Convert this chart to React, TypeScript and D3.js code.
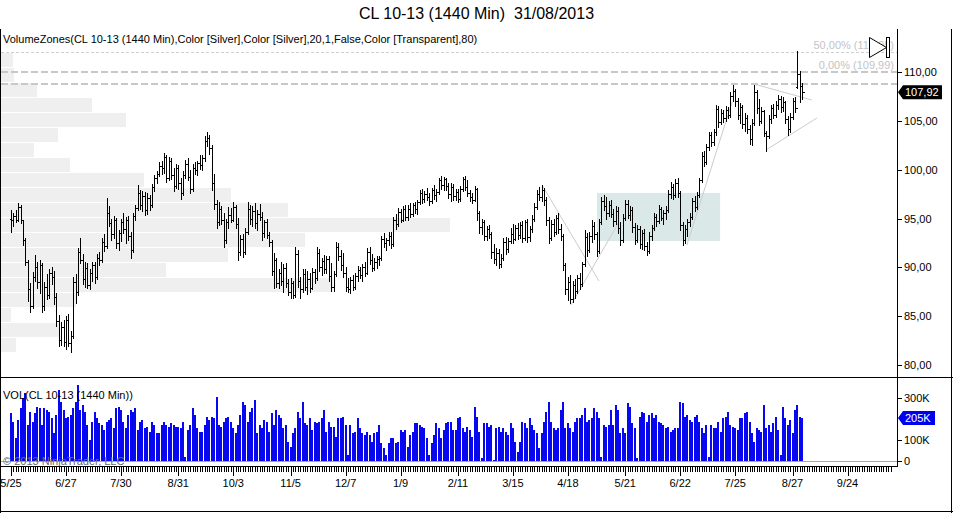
import * as d3 from 'd3';

// CL 10-13 daily bars, [open, high, low, close]
const ohlc: number[][] = [
  [95.0,95.9,93.6,94.8],[94.8,95.6,94.2,95.3],[95.3,95.9,94.6,94.9],[94.9,96.6,94.7,96.2],[96.2,96.4,94.5,94.8],
  [94.8,94.9,92.3,92.8],[92.8,93.0,90.2,90.6],[90.6,90.8,86.6,87.8],[87.8,88.4,85.4,86.0],[86.0,89.5,85.8,89.0],
  [89.0,91.3,88.6,90.0],[90.0,90.6,87.9,88.5],[88.5,90.8,87.4,90.2],[90.2,90.4,85.4,86.0],[86.0,88.5,85.6,88.0],
  [88.0,89.3,86.8,87.2],[87.2,89.8,86.9,89.4],[89.4,90.0,88.3,89.0],[89.0,89.6,86.3,87.0],[87.0,87.4,84.0,84.5],
  [84.5,85.1,81.9,82.6],[82.6,84.4,82.1,83.9],[83.9,84.6,82.0,82.4],[82.4,85.0,81.6,84.6],[84.6,85.2,82.0,82.3],
  [82.3,83.5,81.3,83.0],[83.0,89.0,82.8,88.5],[88.5,89.3,86.4,87.5],[87.5,92.0,87.2,91.6],[91.6,93.0,90.4,90.8],
  [90.8,91.4,88.3,88.8],[88.8,90.5,88.0,89.9],[89.9,90.4,87.9,88.2],[88.2,89.8,87.8,89.4],[89.4,90.6,88.6,90.2],
  [90.2,90.6,88.4,89.0],[89.0,91.4,88.8,91.0],[91.0,91.6,90.2,90.8],[90.8,93.0,90.6,92.6],[92.6,93.4,91.7,92.2],
  [92.2,97.1,92.0,95.6],[95.6,96.3,94.2,94.5],[94.5,95.0,92.8,93.4],[93.4,95.3,93.0,94.8],[94.8,95.1,92.0,92.5],
  [92.5,93.8,91.8,93.5],[93.5,95.0,92.7,94.6],[94.6,95.6,93.5,93.9],[93.9,95.2,92.5,94.9],[94.9,95.3,92.8,93.2],
  [93.2,93.6,91.0,91.8],[91.8,95.6,91.6,95.3],[95.3,96.4,94.9,96.1],[96.1,98.4,95.9,97.6],[97.6,97.9,96.0,96.4],
  [96.4,97.8,95.8,97.3],[97.3,97.7,95.4,95.9],[95.9,97.6,95.5,97.1],[97.1,97.4,95.9,96.4],[96.4,98.5,96.2,98.2],
  [98.2,99.5,97.8,99.2],[99.2,99.9,98.6,99.6],[99.6,100.8,99.4,100.4],[100.4,100.9,99.6,100.2],[100.2,101.7,99.7,101.3],
  [101.3,101.5,98.7,99.2],[99.2,101.3,98.9,100.9],[100.9,101.2,99.0,99.5],[99.5,100.2,97.8,98.3],[98.3,100.6,98.1,100.2],
  [100.2,100.5,98.0,98.6],[98.6,99.2,97.0,97.6],[97.6,99.9,97.4,99.5],[99.5,101.0,99.1,100.6],[100.6,101.2,98.9,99.3],
  [99.3,100.0,97.6,98.0],[98.0,100.6,97.8,100.2],[100.2,100.8,99.6,100.0],[100.0,100.9,99.5,100.7],[100.7,101.5,100.1,100.5],
  [100.5,101.5,100.0,101.2],[101.2,103.4,100.9,102.9],[102.9,103.9,102.4,103.2],[103.2,103.6,101.6,102.2],[102.2,102.5,97.9,98.6],
  [98.6,99.6,96.0,96.5],[96.5,96.9,94.0,94.6],[94.6,96.7,94.3,96.0],[96.0,96.3,94.4,94.9],[94.9,95.6,92.1,92.8],
  [92.8,95.0,92.5,94.6],[94.6,96.2,94.0,95.4],[95.4,96.1,94.6,94.9],[94.9,96.7,94.7,96.2],[96.2,96.4,94.0,94.4],
  [94.4,95.1,90.8,91.6],[91.6,93.3,91.3,92.9],[92.9,93.4,91.1,91.6],[91.6,94.0,91.4,93.6],[93.6,96.7,93.4,96.0],
  [96.0,96.4,94.4,95.0],[95.0,96.3,94.2,95.8],[95.8,96.6,94.0,94.5],[94.5,95.9,93.8,95.5],[95.5,96.5,94.9,95.2],
  [95.2,95.7,92.8,93.5],[93.5,94.9,93.1,94.6],[94.6,95.0,93.0,93.3],[93.3,93.6,92.2,92.6],[92.6,92.8,89.2,89.6],
  [89.6,91.5,87.9,90.8],[90.8,91.0,88.0,88.4],[88.4,89.8,87.9,89.4],[89.4,90.6,88.2,88.6],[88.6,90.3,87.5,89.9],
  [89.9,90.4,88.0,88.4],[88.4,88.8,87.2,87.5],[87.5,88.9,86.9,88.4],[88.4,88.6,86.9,87.2],[87.2,92.1,87.0,91.4],
  [91.4,91.8,88.0,88.6],[88.6,89.0,86.9,87.8],[87.8,89.8,87.5,89.3],[89.3,89.8,87.7,88.0],[88.0,89.6,87.3,88.8],
  [88.8,89.4,87.5,87.9],[87.9,89.9,87.8,89.5],[89.5,89.8,88.4,88.9],[88.9,92.1,88.7,91.5],[91.5,91.9,89.6,90.0],
  [90.0,91.0,89.2,90.7],[90.7,91.3,89.4,89.8],[89.8,91.2,89.4,90.9],[90.9,91.2,88.6,89.1],[89.1,90.4,87.6,88.0],
  [88.0,89.6,87.6,89.3],[89.3,92.6,89.1,92.1],[92.1,92.5,90.8,91.2],[91.2,91.8,89.7,90.2],[90.2,91.5,89.0,89.4],
  [89.4,90.0,87.6,88.0],[88.0,88.9,87.5,87.8],[87.8,89.0,87.4,88.7],[88.7,89.2,87.7,88.0],[88.0,89.4,87.8,89.1],
  [89.1,90.1,88.6,89.7],[89.7,90.0,88.9,89.2],[89.2,90.3,88.6,90.0],[90.0,90.6,89.1,89.4],[89.4,92.0,89.3,91.6],
  [91.6,92.1,90.3,90.8],[90.8,91.4,89.6,89.9],[89.9,91.0,89.7,90.6],[90.6,91.2,89.9,90.9],[90.9,91.2,90.2,91.0],
  [91.0,93.2,90.8,92.9],[92.9,93.5,92.1,92.5],[92.5,93.0,91.8,92.8],[92.8,93.6,92.3,93.2],[93.2,93.6,92.0,92.4],
  [92.4,95.2,92.2,94.9],[94.9,95.5,93.9,94.4],[94.4,96.1,94.2,95.7],[95.7,96.0,94.6,94.9],[94.9,96.3,94.7,96.0],
  [96.0,96.4,94.8,95.2],[95.2,96.4,94.9,96.0],[96.0,96.6,95.2,95.5],[95.5,96.6,95.3,96.4],[96.4,96.7,95.6,96.0],
  [96.0,96.9,95.5,96.7],[96.7,97.9,96.5,97.6],[97.6,98.0,96.6,97.0],[97.0,97.8,96.7,97.5],[97.5,98.1,96.9,97.2],
  [97.2,97.6,96.4,96.8],[96.8,98.1,96.6,97.9],[97.9,98.4,97.0,97.4],[97.4,98.0,96.8,97.7],[97.7,99.2,97.5,98.9],
  [98.9,99.4,98.0,98.4],[98.4,99.3,97.9,99.0],[99.0,99.2,97.9,98.3],[98.3,98.6,97.1,97.5],[97.5,98.6,96.8,98.2],
  [98.2,98.5,96.9,97.3],[97.3,98.0,96.9,97.7],[97.7,98.0,96.7,97.0],[97.0,98.3,96.8,98.0],[98.0,99.3,97.8,99.0],
  [99.0,99.4,97.9,98.2],[98.2,98.9,97.3,97.6],[97.6,97.9,96.8,97.2],[97.2,97.6,96.6,96.9],[96.9,98.3,96.8,98.0],
  [98.0,98.1,94.9,95.6],[95.6,95.8,93.5,94.1],[94.1,95.0,93.4,94.6],[94.6,94.9,92.8,93.2],[93.2,94.2,92.8,93.9],
  [93.9,94.3,93.0,93.4],[93.4,93.6,91.0,91.6],[91.6,92.4,90.4,90.9],[90.9,92.0,90.2,91.5],[91.5,91.9,89.9,90.3],
  [90.3,91.4,90.0,91.0],[91.0,93.0,90.8,92.6],[92.6,93.1,91.4,91.9],[91.9,93.0,91.6,92.7],[92.7,94.0,92.5,93.4],
  [93.4,94.4,92.5,92.9],[92.9,94.3,92.8,94.0],[94.0,94.5,92.9,93.3],[93.3,94.6,93.0,94.3],[94.3,94.7,92.6,93.0],
  [93.0,94.9,92.8,94.6],[94.6,95.0,92.6,93.1],[93.1,94.2,92.7,93.9],[93.9,95.4,93.6,95.0],[95.0,96.6,94.7,96.2],
  [96.2,97.9,96.0,97.5],[97.5,98.2,96.9,97.2],[97.2,98.4,96.8,97.9],[97.9,98.1,96.4,96.9],[96.9,97.2,94.3,94.8],
  [94.8,95.2,92.5,93.0],[93.0,94.9,92.8,94.4],[94.4,95.0,93.2,93.6],[93.6,95.4,93.4,95.1],[95.1,95.6,93.5,93.9],
  [93.9,94.4,92.8,93.2],[93.2,93.4,89.7,90.2],[90.2,90.4,87.3,87.8],[87.8,89.0,86.7,88.5],[88.5,89.2,86.4,86.8],
  [86.8,88.6,86.5,88.2],[88.2,88.8,86.9,87.6],[87.6,89.2,87.4,88.9],[88.9,89.4,87.8,88.3],[88.3,90.6,88.1,90.3],
  [90.3,93.8,90.1,93.1],[93.1,93.5,91.2,91.8],[91.8,93.6,91.6,93.2],[93.2,94.8,92.6,94.2],[94.2,94.6,92.9,93.4],
  [93.4,93.6,91.2,91.7],[91.7,95.0,91.5,94.6],[94.6,97.2,94.4,96.8],[96.8,97.4,95.9,96.3],[96.3,97.2,95.0,95.6],
  [95.6,96.8,95.3,96.4],[96.4,96.9,95.2,95.5],[95.5,96.0,94.2,94.7],[94.7,96.3,94.4,95.8],[95.8,96.2,93.5,94.0],
  [94.0,94.6,92.3,92.8],[92.8,95.5,92.6,95.1],[95.1,96.9,94.9,96.5],[96.5,96.9,95.1,95.4],[95.4,96.3,94.8,95.9],
  [95.9,96.2,93.6,94.1],[94.1,94.5,92.4,92.8],[92.8,94.3,92.6,93.9],[93.9,94.2,92.0,92.4],[92.4,93.8,91.9,93.5],
  [93.5,93.9,91.8,92.2],[92.2,92.6,91.3,91.7],[91.7,93.6,91.5,93.2],[93.2,94.3,92.8,94.0],[94.0,95.6,93.8,95.2],
  [95.2,95.5,94.2,94.7],[94.7,96.4,94.5,96.0],[96.0,96.2,94.8,95.1],[95.1,95.9,94.4,95.6],[95.6,96.3,95.0,95.9],
  [95.9,97.9,95.7,97.5],[97.5,98.7,97.1,98.2],[98.2,98.5,97.0,97.4],[97.4,99.0,97.2,98.6],[98.6,99.1,97.2,97.6],
  [97.6,97.8,93.8,94.3],[94.3,94.6,92.3,92.8],[92.8,94.3,92.5,93.9],[93.9,95.0,93.2,94.6],[94.6,95.6,94.2,95.2],
  [95.2,97.1,95.0,96.8],[96.8,97.3,95.8,96.2],[96.2,97.7,96.0,97.4],[97.4,99.2,97.2,98.9],[98.9,101.8,98.7,101.4],
  [101.4,101.9,100.4,100.8],[100.8,102.6,100.6,102.3],[102.3,103.9,102.0,103.5],[103.5,103.9,102.4,102.8],[102.8,104.2,102.5,103.9],
  [103.9,106.6,103.6,106.2],[106.2,106.5,104.4,104.9],[104.9,106.2,104.7,105.8],[105.8,106.1,104.9,105.3],[105.3,106.5,105.0,106.1],
  [106.1,106.4,105.3,105.6],[105.6,108.0,105.4,107.5],[107.5,108.7,107.0,108.1],[108.1,108.3,106.5,107.0],[107.0,107.3,105.2,105.6],
  [105.6,106.8,104.8,106.4],[106.4,106.6,104.3,104.7],[104.7,105.8,104.0,105.3],[105.3,105.6,103.8,104.2],[104.2,104.6,102.6,103.1],
  [103.1,105.2,102.5,104.8],[104.8,108.7,104.6,108.0],[108.0,108.2,105.8,106.3],[106.3,107.2,104.6,105.0],[105.0,106.4,104.8,106.0],
  [106.0,106.1,103.4,103.8],[103.8,104.0,101.9,103.4],[103.4,105.6,103.2,105.2],[105.2,106.6,104.8,106.3],[106.3,106.7,105.3,105.6],
  [105.6,107.0,105.4,106.6],[106.6,107.6,106.2,107.2],[107.2,107.5,105.9,106.4],[106.4,107.4,106.0,106.9],[106.9,107.0,104.8,105.2],
  [105.2,105.5,103.6,104.2],[104.2,105.8,103.9,105.4],[105.4,107.3,105.2,107.0],[107.0,107.4,105.9,106.3],[108.5,112.2,108.4,109.8],
  [109.8,110.1,106.9,108.6],[108.6,108.9,107.2,107.92],
];

// daily volume, thousands of contracts
const volumeK: number[] = [
  227,187,108,195,251,298,322,171,235,187,227,259,251,
  171,251,243,235,203,132,219,338,283,243,203,211,219,251,283,362,
  243,267,235,171,100,187,235,203,179,171,148,187,195,203,156,
  251,259,243,187,156,219,243,235,251,148,187,195,156,163,140,
  187,171,132,132,171,187,171,163,179,171,163,163,156,187,21,
  148,171,251,219,156,140,140,171,211,195,211,203,306,171,163,
  187,203,211,187,156,132,171,219,283,267,187,235,251,290,132,
  171,156,195,187,140,227,171,243,219,203,156,171,92,68,132,
  156,235,203,283,179,171,203,148,187,179,187,203,243,140,187,
  163,163,116,203,203,211,171,29,171,132,140,203,156,132,124,
  140,124,92,132,140,171,84,60,29,84,108,108,84,92,
  148,140,148,68,124,140,179,179,171,163,156,108,29,84,124,
  179,156,108,148,179,187,187,148,148,203,211,156,140,163,
  148,116,259,211,140,13,179,179,163,171,5,156,163,140,156,
  140,124,179,156,92,44,92,187,179,156,203,171,148,132,60,
  132,187,235,283,187,156,148,156,243,283,156,179,156,140,187,
  203,203,219,251,187,195,203,251,235,203,21,171,163,171,243,
  171,267,243,132,156,132,275,259,179,156,13,211,235,227,187,
  219,227,203,219,187,179,171,156,163,140,148,156,156,283,275,
  211,219,195,187,211,219,187,156,132,171,21,171,156,156,187,
  140,203,211,235,171,163,156,148,203,203,227,235,187,132,92,
  156,148,140,267,156,171,140,179,211,148,29,259,203,171,195,
  132,243,267,211,205,
];

// VolumeZones: 20 price bins from zoneLow upward
const zoneLow = 81.34;
const zoneStep = 1.5355;
const zoneVolK: number[] = [150, 580, 100, 750, 3320, 1650, 2270, 3040, 4490, 2870, 2300, 1430, 690, 330, 570, 1250, 910, 360, 130, 120];

const xLabels = ['5/25', '6/27', '7/30', '8/31', '10/3', '11/5', '12/7', '1/9', '2/11', '3/15', '4/18', '5/21', '6/22', '7/25', '8/27', '9/24'];
const xLabelBars = [0, 23, 46, 70, 93, 117, 140, 163, 187, 210, 233, 257, 280, 303, 327, 350];
const priceTicks = [80, 85, 90, 95, 100, 105, 110];
const volTicks = [0, 100, 300];

const fibLevels = [
  { label: '50,00% (112,05)', price: 112.05 },
  { label: '0,00% (109,99)', price: 109.99 },
];
const extraLevel = 108.77;

// drawn trend lines: [bar1, price1, bar2, price2]
const trendLines: number[][] = [
  [222.2, 98.43, 246.0, 88.61],
  [234.3, 86.15, 254.4, 94.65],
  [282.8, 92.29, 301.7, 106.93],
  [310.9, 108.77, 335.1, 107.13],
  [315.9, 102.02, 337.2, 105.29],
];
const zoneBox = { bar1: 245.2, bar2: 296.7, top: 97.62, bottom: 92.7 };

const lastPrice = 107.92;
const lastVolK = 205;

const W = 953;
const H = 513;
const axisX = 897;
const font = 'Liberation Sans, Arial, sans-serif';

const fmtPrice = (v: number) => d3.format('.2f')(v).replace('.', ',');

export default function App() {
  const x = d3.scaleLinear().domain([0, 370]).range([11, 11 + 370 * 2.39]);
  const y = d3.scaleLinear().domain([78.88, 114.3]).range([376, 30]);
  const yv = d3.scaleLinear().domain([0, 395]).range([461, 378]);
  const zx = d3.scaleLinear().domain([0, d3.max(zoneVolK) as number]).range([1, 450]);

  const px = (i: number) => Math.round(x(i)) + 0.5;
  const tickBars = d3.range(0, 369);

  return (
    <div>
      <style>{'body{margin:0}'}</style>
      <svg width={W} height={H} style={{ display: 'block', background: '#fff' }} fontFamily={font}>
        <rect width={W} height={H} fill="#fff" />
        <text x={W / 2} y={19} textAnchor="middle" fontSize={16} fill="#000" style={{ whiteSpace: 'pre' }}>CL 10-13 (1440 Min)  31/08/2013</text>

        {/* volume zones */}
        {zoneVolK.map((v, k) => {
          const lo = zoneLow + k * zoneStep;
          const yTop = Math.round(y(lo + zoneStep)) + 1;
          const yBot = Math.round(y(lo));
          return <rect key={'z' + k} x={1} y={yTop} width={zx(v) - 1} height={yBot - yTop} fill="#efefef" />;
        })}

        {/* zone box */}
        <rect x={x(zoneBox.bar1)} y={y(zoneBox.top)} width={x(zoneBox.bar2) - x(zoneBox.bar1)}
          height={y(zoneBox.bottom) - y(zoneBox.top)} fill="#dbe8e8" />

        {/* fib + level lines */}
        <line x1={1} x2={axisX} y1={Math.round(y(fibLevels[0].price)) + 0.5} y2={Math.round(y(fibLevels[0].price)) + 0.5}
          stroke="#cfcfcf" strokeDasharray="3,2" />
        <line x1={1} x2={axisX} y1={Math.round(y(fibLevels[1].price))} y2={Math.round(y(fibLevels[1].price))}
          stroke="#c8c8c8" strokeWidth={2} strokeDasharray="7,3" />
        <line x1={1} x2={axisX} y1={Math.round(y(extraLevel))} y2={Math.round(y(extraLevel))}
          stroke="#c8c8c8" strokeWidth={2} strokeDasharray="7,3" />
        {fibLevels.map((f) => (
          <text key={f.label} x={894} y={y(f.price) - 3} textAnchor="end" fontSize={11} fill="#c4c4c4">{f.label}</text>
        ))}

        {/* trend lines */}
        {trendLines.map((t, k) => (
          <line key={'t' + k} x1={x(t[0])} y1={y(t[1])} x2={x(t[2])} y2={y(t[3])} stroke="#cccccc" strokeWidth={1} />
        ))}

        {/* OHLC bars */}
        <g stroke="#000" strokeWidth={1} shapeRendering="crispEdges">
          {ohlc.map((b, i) => {
            const cx = px(i);
            const yo = Math.round(y(b[0])) + 0.5;
            const yc = Math.round(y(b[3])) + 0.5;
            return (
              <g key={'b' + i}>
                <line x1={cx} x2={cx} y1={Math.round(y(b[1]))} y2={Math.round(y(b[2])) + 1} />
                <line x1={cx - 2} x2={cx} y1={yo} y2={yo} />
                <line x1={cx} x2={cx + 2} y1={yc} y2={yc} />
              </g>
            );
          })}
        </g>

        <text x={3} y={43} fontSize={11} fill="#000">VolumeZones(CL 10-13 (1440 Min),Color [Silver],Color [Silver],20,1,False,Color [Transparent],80)</text>

        {/* play icon */}
        <path d="M869.5,37.5 L869.5,57.5 L886.5,47.5 Z" fill="#fff" stroke="#000" />
        <rect x={886.5} y={37.5} width={3} height={20} fill="#fff" stroke="#000" />

        {/* volume panel */}
        <line x1={0} x2={axisX} y1={461.5} y2={461.5} stroke="#a8a8a8" />
        <g shapeRendering="crispEdges">
          {volumeK.map((v, i) => (
            <rect key={'v' + i} x={Math.round(x(i)) - 1} y={yv(v)} width={2} height={461 - yv(v)} fill="#0808f0" />
          ))}
        </g>
        <text x={3} y={399} fontSize={11} fill="#000">VOL(CL 10-13 (1440 Min))</text>
        <text x={3} y={465} fontSize={11} fill="#6a6a6a">© 2013 NinjaTrader, LLC</text>

        {/* frame */}
        <g stroke="#000" shapeRendering="crispEdges" fill="none">
          <line x1={0.5} x2={0.5} y1={29} y2={H} />
          <line x1={951.5} x2={951.5} y1={29} y2={H} />
          <line x1={0} x2={W} y1={511.5} y2={511.5} />
          <line x1={0} x2={W} y1={377.5} y2={377.5} />
          <line x1={0} x2={axisX} y1={466.5} y2={466.5} />
          <line x1={axisX + 0.5} x2={axisX + 0.5} y1={29} y2={467} />
        </g>

        {/* price axis */}
        {priceTicks.map((p) => (
          <g key={'p' + p}>
            <line x1={axisX} x2={axisX + 5} y1={Math.round(y(p)) + 0.5} y2={Math.round(y(p)) + 0.5} stroke="#000" />
            <text x={axisX + 7} y={y(p) + 4} fontSize={11} fill="#000">{fmtPrice(p)}</text>
          </g>
        ))}
        {volTicks.map((v) => (
          <g key={'vt' + v}>
            <line x1={axisX} x2={axisX + 5} y1={Math.round(yv(v)) + 0.5} y2={Math.round(yv(v)) + 0.5} stroke="#000" />
            <text x={axisX + 7} y={yv(v) + 4} fontSize={11} fill="#000">{v === 0 ? '0' : v + 'K'}</text>
          </g>
        ))}

        {/* last price / volume tags */}
        <path d={`M${axisX + 1},${y(lastPrice)} L${axisX + 6},${y(lastPrice) - 7} L${axisX + 45},${y(lastPrice) - 7} L${axisX + 45},${y(lastPrice) + 7} L${axisX + 6},${y(lastPrice) + 7} Z`} fill="#000" />
        <text x={axisX + 8} y={y(lastPrice) + 4} fontSize={11} fill="#fff">{fmtPrice(lastPrice)}</text>
        <path d={`M${axisX + 1},${yv(lastVolK)} L${axisX + 6},${yv(lastVolK) - 7} L${axisX + 38},${yv(lastVolK) - 7} L${axisX + 38},${yv(lastVolK) + 7} L${axisX + 6},${yv(lastVolK) + 7} Z`} fill="#0000f0" />
        <text x={axisX + 8} y={yv(lastVolK) + 4} fontSize={11} fill="#fff">{lastVolK + 'K'}</text>

        {/* time axis */}
        <g stroke="#000" shapeRendering="crispEdges">
          {tickBars.map((i) => (
            <line key={'xt' + i} x1={px(i)} x2={px(i)} y1={467} y2={xLabelBars.includes(i) ? 476 : 472} />
          ))}
        </g>
        {xLabels.map((l, k) => (
          <text key={l} x={x(xLabelBars[k])} y={487} textAnchor="middle" fontSize={11} fill="#000">{l}</text>
        ))}
      </svg>
    </div>
  );
}
